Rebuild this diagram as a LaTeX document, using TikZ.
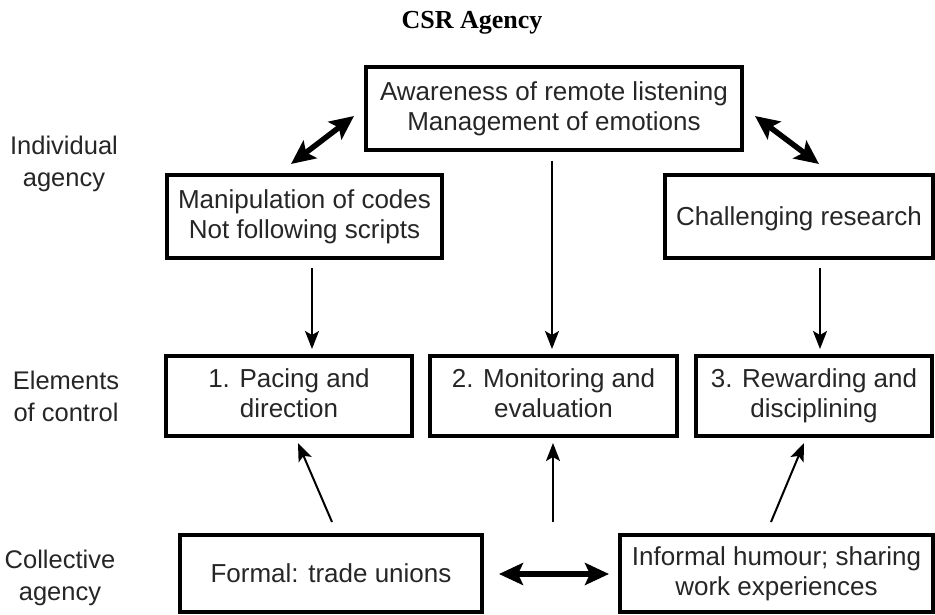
\documentclass[tikz,border=0pt]{standalone}
\usepackage{fontspec}
\setmainfont{Liberation Sans}
\newfontfamily\titlefont{Liberation Serif}
\usetikzlibrary{arrows.meta}
\newcommand\boxstrut{\rule[-5.7pt]{0pt}{30pt}}
\newcommand\lblstrut{\rule[-6.5pt]{0pt}{32pt}}
\begin{document}
\begin{tikzpicture}[x=1pt,y=-1pt,
  box/.style={draw=black,line width=3.5pt,align=center,inner sep=0pt,
    text=black!85,font=\fontsize{26}{30}\selectfont,
    execute at begin node=\boxstrut,execute at end node=\boxstrut},
  lbl/.style={align=center,inner sep=0pt,text=black!85,font=\fontsize{25.5}{32}\selectfont,
    execute at begin node=\lblstrut,execute at end node=\lblstrut},
  onearrow/.style={line width=2pt,-{Stealth[length=18pt,width=14pt,inset=4pt]}},
  twoarrow/.style={line width=5.5pt,{Stealth[length=24pt,width=22pt,inset=5pt]}-{Stealth[length=24pt,width=22pt,inset=5pt]}}]
\useasboundingbox (0,0) rectangle (935,615);
\node[inner sep=0pt,font=\titlefont\bfseries\fontsize{26}{30}\selectfont] (title) at (472,23) {CSR Agency};
% row labels
\node[lbl] (lind) at (64,165) {Individual\\agency};
\node[lbl] (lel) at (66,400) {Elements\\of control};
\node[lbl] (lcol) at (60,579) {Collective\\agency};
% boxes
\node[box,minimum width=376pt,minimum height=83pt] (aware) at (554,108.5) {Awareness of remote listening\\Management of emotions};
\node[box,minimum width=275pt,minimum height=83pt] (manip) at (304.5,216.5) {Manipulation of codes\\Not following scripts};
\node[box,minimum width=268pt,minimum height=83pt] (chal) at (799,216.5) {Challenging research};
\node[box,minimum width=246pt,minimum height=80pt] (pace) at (289,396) {1. Pacing and\\direction};
\node[box,minimum width=247pt,minimum height=80pt] (moni) at (553.5,396) {2. Monitoring and\\evaluation};
\node[box,minimum width=236pt,minimum height=80pt] (rew) at (814,396) {3. Rewarding and\\disciplining};
\node[box,minimum width=302pt,minimum height=77pt] (formal) at (331,573.5) {Formal: trade unions};
\node[box,minimum width=313pt,minimum height=77pt] (inform) at (776.5,573.5) {Informal humour; sharing\\work experiences};
% arrow end points
\coordinate (d1a) at (291,164);
\coordinate (d1b) at (354,116);
\coordinate (d2a) at (755,116);
\coordinate (d2b) at (819,164);
\coordinate (v1a) at (312,268);
\coordinate (v1b) at (312,349);
\coordinate (v2a) at (552,161);
\coordinate (v2b) at (552,349);
\coordinate (v3a) at (820,268);
\coordinate (v3b) at (820,349);
\coordinate (u1a) at (332,522);
\coordinate (u1b) at (298,443);
\coordinate (u2a) at (553,522);
\coordinate (u2b) at (553,443);
\coordinate (u3a) at (771,522);
\coordinate (u3b) at (804,443);
\coordinate (h1) at (499,574);
\coordinate (h2) at (609,574);
% connectors
\draw[twoarrow] (d1a) -- (d1b);
\draw[twoarrow] (d2a) -- (d2b);
\draw[onearrow] (v1a) -- (v1b);
\draw[onearrow] (v2a) -- (v2b);
\draw[onearrow] (v3a) -- (v3b);
\draw[onearrow] (u1a) -- (u1b);
\draw[onearrow] (u2a) -- (u2b);
\draw[onearrow] (u3a) -- (u3b);
\draw[twoarrow] (h1) -- (h2);
\end{tikzpicture}
\end{document}
